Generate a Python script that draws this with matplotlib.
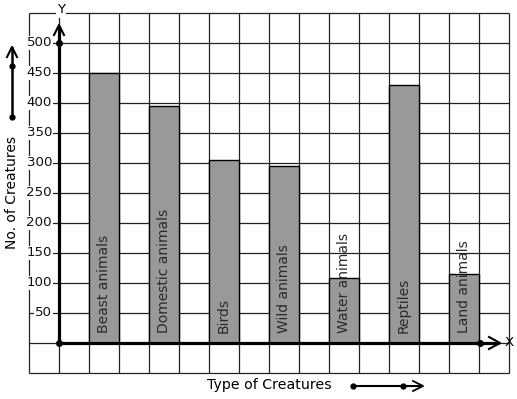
import matplotlib
matplotlib.use("Agg")
import matplotlib.pyplot as plt

categories = ["Beast animals", "Domestic animals", "Birds", "Wild animals",
              "Water animals", "Reptiles", "Land animals"]
values = [450, 395, 305, 295, 108, 430, 115]
y_ticks = [50, 100, 150, 200, 250, 300, 350, 400, 450, 500]
x_label = "Type of Creatures"
y_label = "No. of Creatures"

W, H = 517, 399
fig = plt.figure(figsize=(W / 100, H / 100), dpi=100)
ax = fig.add_axes([0, 0, 1, 1])

# pixel -> data mapping: origin at (59, 343), 30 px per cell, cell = 1 (x) / 50 (y)
def px2x(px):
    return (px - 59) / 30.0

def py2y(py):
    return (343 - py) / 30.0 * 50

ax.set_xlim(px2x(0), px2x(W))
ax.set_ylim(py2y(H), py2y(0))
ax.axis("off")

# grid
gx = list(range(-1, 16))
gy = list(range(-50, 551, 50))
ax.vlines(gx, gy[0], gy[-1], color="#222222", lw=0.9, zorder=1)
ax.hlines(gy, gx[0], gx[-1], color="#222222", lw=0.9, zorder=1)

# bars
pos = [2 * i + 1.5 for i in range(len(categories))]
ax.bar(pos, values, width=1.0, color="#999999", edgecolor="black", lw=1.0, zorder=2)
for p, c in zip(pos, categories):
    ax.text(p, py2y(333), c, rotation=90, ha="center", va="bottom",
            fontsize=10, color="#2a2a2a", zorder=5)

# y tick labels
for v in y_ticks:
    ax.text(px2x(52), v, str(v), ha="right", va="center", fontsize=9.6,
            color="#111111", zorder=4,
            bbox=dict(boxstyle="square,pad=0.05", fc="white", ec="none"))

# axes lines
ax.plot([0, px2x(499)], [0, 0], color="black", lw=2.3, zorder=6, solid_capstyle="butt")
ax.plot([0, 0], [0, py2y(26)], color="black", lw=2.3, zorder=6, solid_capstyle="butt")
# x arrowhead
ax.plot([px2x(489), px2x(500), px2x(489)], [py2y(337), py2y(343), py2y(349)],
        color="black", lw=1.5, zorder=6)
# y arrowhead
ax.plot([px2x(54), px2x(59), px2x(64)], [py2y(35), py2y(25), py2y(35)],
        color="black", lw=1.5, zorder=6)
# dots
ax.plot([0, 0, px2x(480)], [0, 500, 0], "o", color="black", ms=4, zorder=7)

ax.text(px2x(509), 0, "X", ha="center", va="center", fontsize=9.6, zorder=7)
ax.text(px2x(61), py2y(10), "Y", ha="center", va="center", fontsize=9.6, zorder=7,
        bbox=dict(boxstyle="square,pad=0.1", fc="white", ec="none"))

# axis titles
ax.text(px2x(269), py2y(385), x_label, ha="center", va="center", fontsize=10.2)
ax.text(px2x(12), py2y(193), y_label, ha="center", va="center", fontsize=10, rotation=90)

# decorative arrows
ax.plot([px2x(353), px2x(422)], [py2y(386), py2y(386)], color="black", lw=1.5)
ax.plot([px2x(353), px2x(403)], [py2y(386), py2y(386)], "o", color="black", ms=3.5)
ax.plot([px2x(413), px2x(423), px2x(413)], [py2y(381), py2y(386), py2y(391)],
        color="black", lw=1.3)

ax.plot([px2x(12), px2x(12)], [py2y(117), py2y(48)], color="black", lw=1.8)
ax.plot([px2x(12), px2x(12)], [py2y(117), py2y(66)], "o", color="black", ms=3.5)
ax.plot([px2x(7), px2x(12), px2x(17)], [py2y(57), py2y(47), py2y(57)],
        color="black", lw=1.5)

fig.savefig("out.png", dpi=100, facecolor="white")
